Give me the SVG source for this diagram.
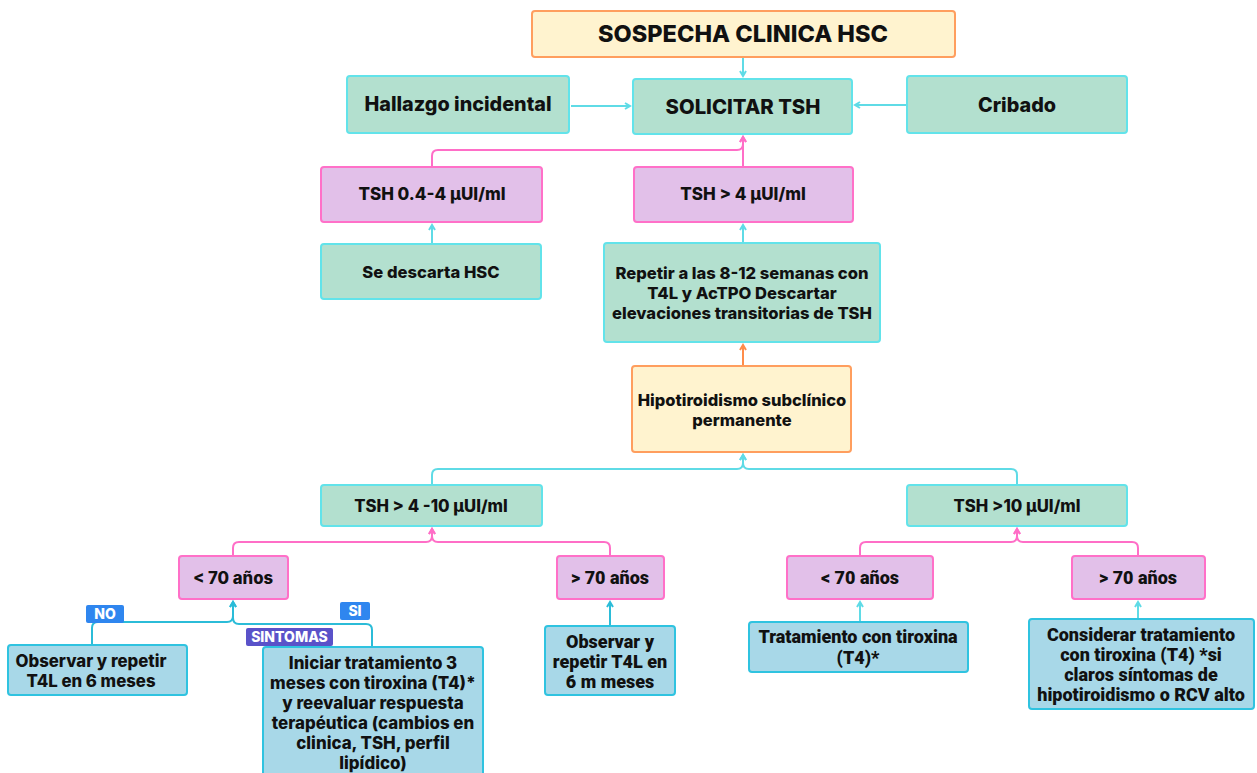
<svg xmlns="http://www.w3.org/2000/svg" width="1257" height="773" viewBox="0 0 1257 773">
<defs>
<style>
text{font-family:Inter,"Liberation Sans",sans-serif;font-weight:800;fill:#111;text-anchor:middle}
.cream{fill:#fff3cf;stroke:#ff9e5e;stroke-width:2}
.green{fill:#b3e0cf;stroke:#62e3ea;stroke-width:2}
.purple{fill:#e2c0e9;stroke:#ff70c8;stroke-width:2}
.blue{fill:#a8d8e8;stroke:#2fc3e0;stroke-width:2}
.c{fill:none;stroke-width:2}
.cy{stroke:#5fdbe6}
.pk{stroke:#ff6ec7}
.or{stroke:#ff8c4a}
.dc{stroke:#2bbcd8}
text.lbl{fill:#fff;font-size:14px}
text.cond{font-family:Roboto,"Liberation Sans",sans-serif;font-weight:900}
</style>
<marker id="acy" markerWidth="8" markerHeight="8" refX="6" refY="4" orient="auto" markerUnits="userSpaceOnUse"><path d="M1,1 L6,4 L1,7" fill="none" stroke="#5fdbe6" stroke-width="2"/></marker>
<marker id="apk" markerWidth="8" markerHeight="8" refX="6" refY="4" orient="auto" markerUnits="userSpaceOnUse"><path d="M1,1 L6,4 L1,7" fill="none" stroke="#ff6ec7" stroke-width="2"/></marker>
<marker id="aor" markerWidth="8" markerHeight="8" refX="6" refY="4" orient="auto" markerUnits="userSpaceOnUse"><path d="M1,1 L6,4 L1,7" fill="none" stroke="#ff8c4a" stroke-width="2"/></marker>
<marker id="adc" markerWidth="8" markerHeight="8" refX="6" refY="4" orient="auto" markerUnits="userSpaceOnUse"><path d="M1,1 L6,4 L1,7" fill="none" stroke="#2bbcd8" stroke-width="2"/></marker>
</defs>
<rect width="1257" height="773" fill="#fff"/>

<g id="connectors">
<path class="c cy" d="M743,58 V76" marker-end="url(#acy)"/>
<path class="c cy" d="M571,106 H630" marker-end="url(#acy)"/>
<path class="c cy" d="M907,105 H855" marker-end="url(#acy)"/>
<path class="c pk" d="M432,167 V156 Q432,150 438,150 H737 Q743,150 743,144 V137" marker-end="url(#apk)"/>
<path class="c pk" d="M743,167 V137" marker-end="url(#apk)"/>
<path class="c cy" d="M432,244 V225" marker-end="url(#acy)"/>
<path class="c cy" d="M743,243 V225" marker-end="url(#acy)"/>
<path class="c or" d="M743,366 V345" marker-end="url(#aor)"/>
<path class="c cy" d="M432,485 V475 Q432,469 438,469 H737 Q743,469 743,463 V455" marker-end="url(#acy)"/>
<path class="c cy" d="M1017,485 V475 Q1017,469 1011,469 H749 Q743,469 743,463 V455" marker-end="url(#acy)"/>
<path class="c pk" d="M233,556 V548 Q233,542 239,542 H426 Q432,542 432,536 V529" marker-end="url(#apk)"/>
<path class="c pk" d="M610,556 V548 Q610,542 604,542 H438 Q432,542 432,536 V529" marker-end="url(#apk)"/>
<path class="c pk" d="M860,556 V548 Q860,542 866,542 H1011 Q1017,542 1017,536 V529" marker-end="url(#apk)"/>
<path class="c pk" d="M1138,556 V548 Q1138,542 1132,542 H1023 Q1017,542 1017,536 V529" marker-end="url(#apk)"/>
<path class="c dc" d="M92,645 V628 Q92,622 98,622 H227 Q233,622 233,616 V602" marker-end="url(#adc)"/>
<path class="c dc" d="M372,647 V630 Q372,624 366,624 H239 Q233,624 233,618 V602" marker-end="url(#adc)"/>
<path class="c dc" d="M610,626 V602" stroke-width="2.5" marker-end="url(#adc)"/>
<path class="c cy" d="M860,622 V602" stroke-width="1.5" marker-end="url(#acy)"/>
<path class="c cy" d="M1138,619 V602" stroke-width="1.5" marker-end="url(#acy)"/>
</g>

<g id="n-sospecha"><rect class="cream" x="532" y="11" width="423" height="46" rx="3"/><text x="743" y="42" font-size="23.5">SOSPECHA CLINICA HSC</text></g>
<g id="n-hallazgo"><rect class="green" x="347" y="76" width="222" height="57" rx="3"/><text x="458" y="111" font-size="19.8">Hallazgo incidental</text></g>
<g id="n-solicitar"><rect class="green" x="633" y="79" width="219" height="55" rx="3"/><text x="743" y="114" font-size="20.3">SOLICITAR TSH</text></g>
<g id="n-cribado"><rect class="green" x="907" y="76" width="220" height="57" rx="3"/><text x="1017" y="112" font-size="19.8">Cribado</text></g>
<g id="n-tsh04"><rect class="purple" x="321" y="167" width="221" height="55" rx="3"/><text x="432" y="200" font-size="17">TSH 0.4-4 µUI/ml</text></g>
<g id="n-tsh4"><rect class="purple" x="634" y="167" width="219" height="55" rx="3"/><text x="743" y="200" font-size="17">TSH &gt; 4 µUI/ml</text></g>
<g id="n-descarta"><rect class="green" x="321" y="244" width="220" height="55" rx="3"/><text x="431" y="278" font-size="16.6">Se descarta HSC</text></g>
<g id="n-repetir"><rect class="green" x="604" y="243" width="276" height="99" rx="3"/><text font-size="16.6"><tspan x="742" y="279">Repetir a las 8-12 semanas con</tspan><tspan x="742" y="299">T4L y AcTPO Descartar</tspan><tspan x="742" y="319">elevaciones transitorias de TSH</tspan></text></g>
<g id="n-hipo"><rect class="cream" x="632" y="366" width="219" height="86" rx="3"/><text font-size="16.5"><tspan x="742" y="406">Hipotiroidismo subclínico</tspan><tspan x="742" y="426">permanente</tspan></text></g>
<g id="n-tsh410"><rect class="green" x="321" y="485" width="221" height="41" rx="3"/><text x="431" y="512" font-size="16.7">TSH &gt; 4 -10 µUI/ml</text></g>
<g id="n-tsh10"><rect class="green" x="907" y="485" width="220" height="41" rx="3"/><text x="1017" y="512" font-size="16.7">TSH &gt;10 µUI/ml</text></g>
<g id="n-lt70a"><rect class="purple" x="179" y="556" width="109" height="43" rx="3"/><text x="233" y="584" font-size="16.7">&lt; 70 años</text></g>
<g id="n-gt70a"><rect class="purple" x="557" y="556" width="107" height="43" rx="3"/><text x="610" y="584" font-size="18" class="cond">&gt; 70 años</text></g>
<g id="n-lt70b"><rect class="purple" x="787" y="556" width="146" height="43" rx="3"/><text x="860" y="584" font-size="18" class="cond">&lt; 70 años</text></g>
<g id="n-gt70b"><rect class="purple" x="1072" y="556" width="133" height="43" rx="3"/><text x="1138" y="584" font-size="18" class="cond">&gt; 70 años</text></g>
<g id="n-observar1"><rect class="blue" x="8" y="645" width="179" height="50" rx="3"/><text font-size="16.8"><tspan x="91" y="667">Observar y repetir</tspan><tspan x="91" y="687">T4L en 6 meses</tspan></text></g>
<g id="n-iniciar"><rect class="blue" x="263" y="647" width="220" height="130" rx="3"/><text font-size="16.9"><tspan x="373" y="669">Iniciar tratamiento 3</tspan><tspan x="373" y="689">meses con tiroxina (T4)*</tspan><tspan x="373" y="709">y reevaluar respuesta</tspan><tspan x="373" y="729">terapéutica (cambios en</tspan><tspan x="373" y="749">clinica, TSH, perfil</tspan><tspan x="373" y="769">lipídico)</tspan></text></g>
<g id="n-observar2"><rect class="blue" x="545" y="626" width="130" height="69" rx="3"/><text font-size="18" class="cond"><tspan x="610" y="648">Observar y</tspan><tspan x="610" y="668">repetir T4L en</tspan><tspan x="610" y="688">6 m meses</tspan></text></g>
<g id="n-tratamiento"><rect class="blue" x="749" y="622" width="219" height="50" rx="3"/><text font-size="18" class="cond"><tspan x="858" y="643">Tratamiento con tiroxina</tspan><tspan x="858" y="664">(T4)*</tspan></text></g>
<g id="n-considerar"><rect class="blue" x="1029" y="619" width="225" height="90" rx="3"/><text font-size="18" class="cond"><tspan x="1141" y="641">Considerar tratamiento</tspan><tspan x="1141" y="661">con tiroxina (T4) *si</tspan><tspan x="1141" y="681">claros síntomas de</tspan><tspan x="1141" y="701">hipotiroidismo o RCV alto</tspan></text></g>

<g id="labels">
<rect x="86" y="605" width="38" height="18" rx="2" fill="#2f86ef"/><text class="lbl" x="105" y="619">NO</text>
<rect x="340" y="602" width="30" height="18" rx="2" fill="#2f86ef"/><text class="lbl" x="355" y="616">SI</text>
<rect x="246" y="628" width="87" height="18" rx="2" fill="#5a52c9"/><text class="lbl" x="289.5" y="642">SINTOMAS</text>
</g>
</svg>
